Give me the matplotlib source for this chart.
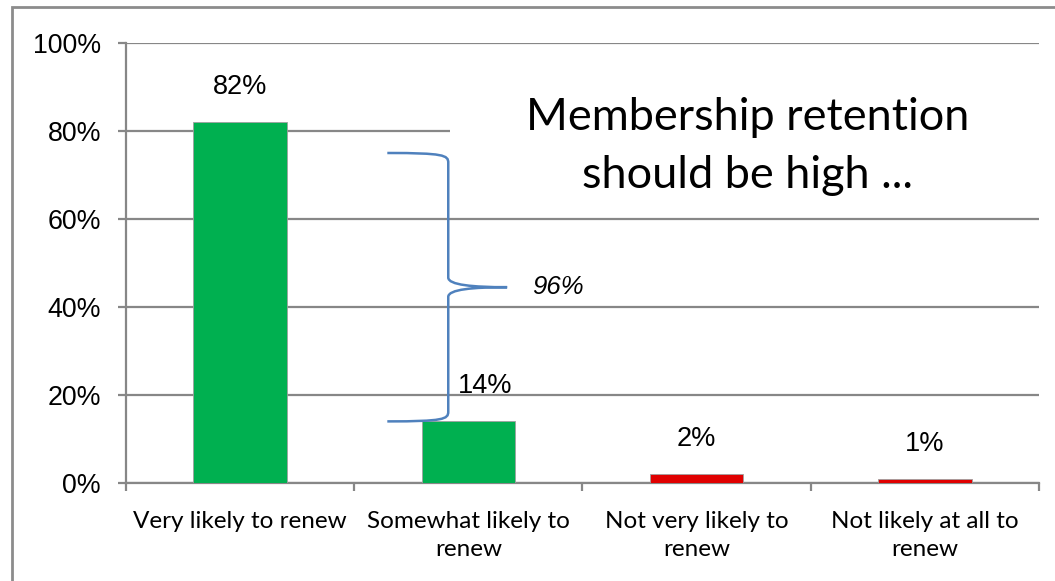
import matplotlib
matplotlib.use("Agg")
import matplotlib.pyplot as plt
from matplotlib.patches import Rectangle, PathPatch
from matplotlib.path import Path

# data
categories = ["Very likely to renew", "Somewhat likely to\nrenew",
              "Not very likely to\nrenew", "Not likely at all to\nrenew"]
values = [82, 14, 2, 0.9]
value_labels = ["82%", "14%", "2%", "1%"]
bar_colors = ["#00B050", "#00B050", "#E00000", "#E00000"]
yticks = [0, 20, 40, 60, 80, 100]

# brace spanning the two "likely" answers (y in %, x in category units)
brace_top, brace_bottom, brace_tip = 75, 14, 44.5
brace_end_x, brace_stem_x, brace_tip_x = 0.645, 0.912, 1.17
brace_label = "96%"

title_text = "Membership retention\nshould be high ..."

GRID = "#878787"
NUM_FONT = "Liberation Sans"
TXT_FONT = "Lato"

fig = plt.figure(figsize=(10.55, 5.81), dpi=100)
ax = fig.add_axes([0.1194, 0.1687, 0.9848 - 0.1194, 0.926 - 0.1687])

# outer chart border
fig.patches.append(Rectangle((0.0114, -0.02), 1.05, 0.988 + 0.02, transform=fig.transFigure,
                             fill=False, edgecolor="#8c8c8c", linewidth=2))

x = range(len(categories))
ax.bar(x, values, width=0.41, color=bar_colors, edgecolor="#a0a0a0", linewidth=0.6, zorder=3)
label_shift = {1: 0.075}  # the 14% label sits a bit right, clear of the brace
for xi, v, lab in zip(x, values, value_labels):
    ax.text(xi + label_shift.get(xi, 0), v + 8.0, lab, ha="center", va="center",
            fontsize=19.5, family=NUM_FONT, zorder=5)

ax.set_xlim(-0.5, 3.5)
ax.set_ylim(0, 100)
ax.set_yticks(yticks)
ax.set_yticklabels([f"{t}%" for t in yticks], fontsize=19.3, family=NUM_FONT)
ax.yaxis.grid(True, color=GRID, linewidth=1.6, zorder=0)
ax.set_axisbelow(True)

# category boundaries get tick marks, labels go at centres
ax.set_xticks([-0.5, 0.5, 1.5, 2.5, 3.5])
ax.set_xticklabels([])
ax.set_xticks(list(x), minor=True)
ax.set_xticklabels(categories, minor=True, fontsize=17.5, family=TXT_FONT, linespacing=1.45)
ax.tick_params(axis="x", which="major", length=6, width=1.6, color=GRID, direction="out")
ax.tick_params(axis="x", which="minor", length=0, pad=20)
ax.tick_params(axis="y", length=6, width=1.6, color=GRID, pad=12)

for s in ["top", "right"]:
    ax.spines[s].set_visible(False)
for s in ["left", "bottom"]:
    ax.spines[s].set_color(GRID)
    ax.spines[s].set_linewidth(1.6)

# white text box hiding the gridline behind the title
ax.add_patch(Rectangle((0.92, 63), 2.7, 34, facecolor="white", edgecolor="none",
                       zorder=2, clip_on=False))
ax.text(2.223, 76.5, title_text, ha="center", va="center", fontsize=32.5, family=TXT_FONT,
        linespacing=1.52, zorder=4)

# curly brace
c = 2.2
verts = [(brace_end_x, brace_top),
         (brace_stem_x - 0.02, brace_top), (brace_stem_x, brace_top - 0.5), (brace_stem_x, brace_top - c),
         (brace_stem_x, brace_tip + c),
         (brace_stem_x, brace_tip + 0.5), (brace_tip_x - 0.15, brace_tip), (brace_tip_x, brace_tip),
         (brace_tip_x - 0.15, brace_tip), (brace_stem_x, brace_tip - 0.5), (brace_stem_x, brace_tip - c),
         (brace_stem_x, brace_bottom + c),
         (brace_stem_x, brace_bottom + 0.5), (brace_stem_x - 0.02, brace_bottom), (brace_end_x, brace_bottom)]
codes = [Path.MOVETO, Path.CURVE4, Path.CURVE4, Path.CURVE4, Path.LINETO,
         Path.CURVE4, Path.CURVE4, Path.CURVE4, Path.CURVE4, Path.CURVE4, Path.CURVE4,
         Path.LINETO, Path.CURVE4, Path.CURVE4, Path.CURVE4]
ax.add_patch(PathPatch(Path(verts, codes), facecolor="none", edgecolor="#4F81BD",
                       linewidth=1.8, zorder=4))
ax.text(brace_tip_x + 0.11, brace_tip, brace_label, ha="left", va="center", fontsize=18.5,
        family=NUM_FONT, style="italic", zorder=5)

fig.savefig("out.png", dpi=100)
